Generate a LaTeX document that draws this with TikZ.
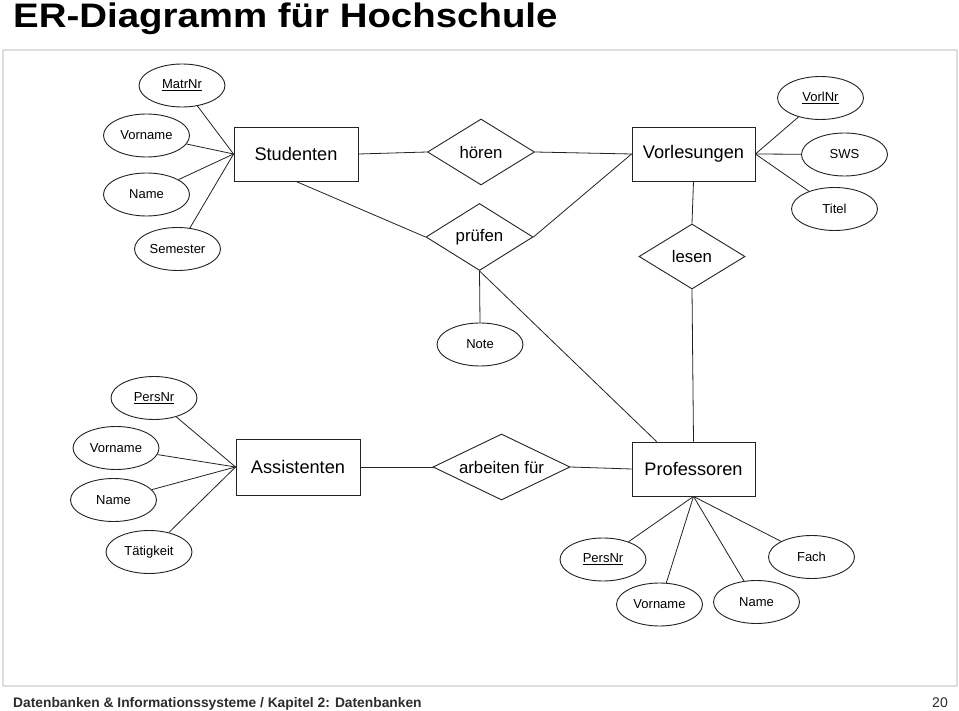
\documentclass[tikz,border=0pt]{standalone}
\usepackage{fontspec}
\setmainfont{Liberation Sans}
\usetikzlibrary{shapes.geometric,calc}
\definecolor{ink}{RGB}{35,35,35}
\definecolor{framegray}{RGB}{222,222,222}
\definecolor{footgray}{RGB}{45,45,45}
\tikzset{
  entity/.style={draw=ink, line width=0.9pt, rectangle, inner sep=0pt, minimum width=123pt, minimum height=54pt, font=\fontsize{18.2}{21}\selectfont},
  rel/.style={draw=ink, line width=0.9pt, diamond, shape aspect=2, inner sep=0pt, minimum width=107pt, minimum height=66pt, font=\fontsize{16.8}{20}\selectfont},
  attr/.style={draw=ink, line width=0.9pt, ellipse, inner sep=0pt, minimum width=86pt, minimum height=43pt, font=\fontsize{13}{15}\selectfont},
  conn/.style={draw=ink, line width=0.8pt}
}
\begin{document}
\begin{tikzpicture}[x=1pt,y=-1pt]
\useasboundingbox (0,0) rectangle (959,711);
\fill[white] (0,0) rectangle (959,711);
% frame
\draw[framegray, line width=2pt] (3,50) rectangle (957,686);
% title and footer
\node[anchor=base west, inner sep=0pt] (title) at (13,28) {\scalebox{1.13}[1]{\fontsize{34}{40}\selectfont\bfseries ER-Diagramm für Hochschule}};
\node[anchor=base west, inner sep=0pt, text=footgray] (footer) at (13,707) {\fontsize{13.8}{16}\selectfont\bfseries Datenbanken \& Informationssysteme / Kapitel 2: Datenbanken};
\node[anchor=base east, inner sep=0pt, text=footgray] (page) at (948,707) {\fontsize{14}{16}\selectfont 20};

% entities
\node[entity, minimum width=124pt] (stud) at (296,154) {Studenten};
\node[entity] (vorl) at (693.5,154) {Vorlesungen};
\node[entity, minimum width=124pt, minimum height=56pt] (assist) at (298,467) {Assistenten};
\node[entity] (prof) at (693.5,469) {Professoren};

% relationships
\node[rel] (hoeren) at (481,152) {hören};
\node[rel, minimum height=67pt] (pruefen) at (479.5,237) {prüfen};
\node[rel, minimum width=106pt, minimum height=65pt] (lesen) at (692,256.5) {lesen};
\node[rel, minimum width=137pt] (arbeiten) at (501.5,467) {arbeiten für};

% attributes Studenten
\node[attr] (matrnr) at (182,85.5) {\underline{MatrNr}};
\node[attr] (svorname) at (146.5,135.5) {Vorname};
\node[attr] (sname) at (146.5,194.5) {Name};
\node[attr] (semester) at (177.5,249) {Semester};
% attributes Vorlesungen
\node[attr] (vorlnr) at (820.5,98) {\underline{VorlNr}};
\node[attr] (sws) at (844.5,154.5) {SWS};
\node[attr] (titel) at (834.5,209) {Titel};
% attribute of pruefen
\node[attr] (note) at (480,344.5) {Note};
% attributes Assistenten
\node[attr] (apersnr) at (154,398) {\underline{PersNr}};
\node[attr] (avorname) at (116,448) {Vorname};
\node[attr] (aname) at (113.5,500) {Name};
\node[attr] (taetigkeit) at (149,552) {Tätigkeit};
% attributes Professoren
\node[attr] (ppersnr) at (603,559.5) {\underline{PersNr}};
\node[attr] (pvorname) at (659.5,604.5) {Vorname};
\node[attr] (pname) at (756.5,602) {Name};
\node[attr] (fach) at (811.5,557) {Fach};

\coordinate (profin) at ($(prof.north west)+(25,0)$);

% connectors
\draw[conn] (stud.east) -- (hoeren.west);
\draw[conn] (hoeren.east) -- (vorl.west);
\draw[conn] (stud.south) -- (pruefen.west);
\draw[conn] (pruefen.east) -- (vorl.west);
\draw[conn] (pruefen.south) -- (note.north);
\draw[conn] (pruefen.south) -- (profin);
\draw[conn] (vorl.south) -- (lesen.north);
\draw[conn] (lesen.south) -- (prof.north);
\draw[conn] (assist.east) -- (arbeiten.west);
\draw[conn] (arbeiten.east) -- (prof.west);

\foreach \a in {matrnr,svorname,sname,semester} \draw[conn] (\a) -- (stud.west);
\foreach \a in {vorlnr,sws,titel} \draw[conn] (\a) -- (vorl.east);
\foreach \a in {apersnr,avorname,aname,taetigkeit} \draw[conn] (\a) -- (assist.west);
\foreach \a in {ppersnr,pvorname,pname,fach} \draw[conn] (\a) -- (prof.south);
\end{tikzpicture}
\end{document}
